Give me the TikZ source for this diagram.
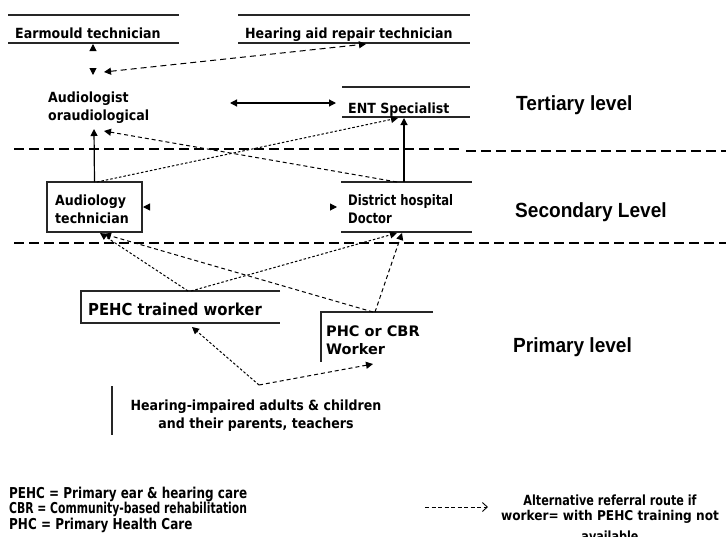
\documentclass[tikz,border=0pt]{standalone}
\usepackage{fontspec}
\usetikzlibrary{arrows.meta}
\newfontfamily\wideface{DejaVu Sans}
\newfontfamily\midface{DejaVu Sans}[FakeStretch=0.9]
\newfontfamily\narrowface{DejaVu Sans}[FakeStretch=0.8]
\newfontfamily\tightface{DejaVu Sans}[FakeStretch=0.72]
\newfontfamily\levelface{Liberation Sans Bold}[FakeStretch=0.93]

\begin{document}
\begin{tikzpicture}[x=1pt,y=-1pt,
  frame/.style={inner sep=0pt, outer sep=0pt, draw=none},
  rule/.style={line width=1.1pt, draw=black!85},
  txt/.style={inner sep=0pt, anchor=base west, align=left},
  boxfont/.style={font=\midface\bfseries\fontsize{14}{18}\selectfont},
  levelfont/.style={font=\levelface\fontsize{20.5}{24}\selectfont},
  conn/.style={line width=1pt, draw=black},
  headend/.style={-{Triangle[width=7pt,length=7pt]}},
  headboth/.style={{Triangle[width=7pt,length=7pt]}-{Triangle[width=7pt,length=7pt]}},
  dashline/.style={dash pattern=on 6pt off 4pt},
  shortdash/.style={dash pattern=on 4pt off 3pt},
  dotline/.style={dash pattern=on 2.5pt off 2pt},
  tipsonly/.style={dash pattern=on 0pt off 1000pt},
  levelline/.style={line width=1.8pt, dash pattern=on 10pt off 5pt}
]
\useasboundingbox (0,0) rectangle (726,536);

% ---- frames of the boxes
\node[frame, minimum width=171pt, minimum height=28pt] (earbox) at (93.5,29) {};
\node[frame, minimum width=232pt, minimum height=28pt] (hearbox) at (354,29) {};
\node[frame, minimum width=128pt, minimum height=30pt] (entbox) at (406,102) {};
\node[frame, minimum width=95pt, minimum height=50pt] (atbox) at (94.5,207) {};
\node[frame, minimum width=131pt, minimum height=50pt] (dhbox) at (406.5,207) {};
\node[frame, minimum width=199pt, minimum height=32pt] (pehcbox) at (180.5,307) {};
\node[frame, minimum width=112pt, minimum height=50pt] (phcbox) at (377,337) {};
\node[frame, minimum width=1pt, minimum height=49pt] (hibar) at (112,410.5) {};

\draw[rule] (earbox.north west) -- (earbox.north east) (earbox.south west) -- (earbox.south east);
\draw[rule] (hearbox.north west) -- (hearbox.north east) (hearbox.south west) -- (hearbox.south east);
\draw[rule] (entbox.north west) -- (entbox.north east) (entbox.south west) -- (entbox.south east);
\draw[rule] (dhbox.north west) -- (dhbox.north east) (dhbox.south west) -- (dhbox.south east);
\draw[rule] (atbox.north west) rectangle (atbox.south east);
\draw[rule] (pehcbox.north east) -- (pehcbox.north west) -- (pehcbox.south west) -- (pehcbox.south east);
\draw[rule] (phcbox.north east) -- (phcbox.north west) -- (phcbox.south west);
\draw[rule] (hibar.north) -- (hibar.south);

% ---- texts (multi-line nodes sit on the baseline of their last line)
\node[txt, boxfont] (ear) at (15,38) {Earmould technician};
\node[txt, boxfont] (hear) at (245,38) {Hearing aid repair technician};
\node[txt, boxfont] (aud) at (48,120) {Audiologist\\oraudiological};
\node[txt, boxfont] (ent) at (348,113) {ENT Specialist};
\node[txt, boxfont] (atech) at (55,223) {Audiology\\technician};
\node[txt, font=\narrowface\bfseries\fontsize{14.5}{18}\selectfont] (dhd) at (348,223) {District hospital\\Doctor};
\node[txt, font=\midface\bfseries\fontsize{16.5}{20}\selectfont] (pehc) at (88,315) {PEHC trained worker};
\node[txt, font=\wideface\bfseries\fontsize{14.5}{18}\selectfont] (phc) at (326,354) {PHC or CBR\\Worker};
\node[inner sep=0pt, anchor=base, align=center, font=\midface\bfseries\fontsize{14}{18}\selectfont] (hi) at (256,428)
  {Hearing-impaired adults \& children\\and their parents, teachers};

\node[txt, levelfont] (tert) at (516,110) {Tertiary level};
\node[txt, levelfont] (sec) at (515,217) {Secondary Level};
\node[txt, levelfont] (prim) at (513,352) {Primary level};

% ---- level separators
\draw[levelline] (14,149) -- (463,149);
\draw[levelline] (466,151) -- (726,151);
\draw[levelline] (14,243) -- (726,243);

% ---- connector ends
\coordinate (p-ear) at (93,44);
\coordinate (p-audtop) at (93,75);
\coordinate (p-audright) at (104,72);
\coordinate (p-hear) at (366,44);
\coordinate (p-audeast) at (230,103);
\coordinate (p-entwest) at (336,103);
\coordinate (p-audbot1) at (94,129);
\coordinate (p-audbot2) at (104,131);
\coordinate (p-ent1) at (398,118);
\coordinate (p-ent2) at (404,118);
\coordinate (p-attop2) at (97,182);
\coordinate (p-dhtop1) at (397,182);
\coordinate (p-dhtop2) at (404,182);
\coordinate (p-ateast) at (143,207);
\coordinate (p-dhwest) at (337,207);
\coordinate (p-atbot1) at (100,233);
\coordinate (p-atbot2) at (104,234);
\coordinate (p-dhbot1) at (397,233);
\coordinate (p-dhbot2) at (402,233);
\coordinate (p-pehctop1) at (188,291);
\coordinate (p-pehctop2) at (191,291);
\coordinate (p-phctop1) at (373,312);
\coordinate (p-phctop2) at (375,312);
\coordinate (p-pehcbot) at (192,327);
\coordinate (p-phcbot) at (373,364);
\coordinate (src) at (259,385);

% ---- tertiary links
\draw[conn, tipsonly, headboth] (p-audtop) -- (p-ear);
\draw[conn, dashline, headboth] (p-audright) -- (p-hear);
\draw[conn, line width=1.2pt, headboth] (p-audeast) -- (p-entwest);

% ---- secondary to tertiary
\draw[conn, line width=1.2pt, headend] (atbox.north) -- (p-audbot1);
\draw[conn, shortdash, headend] (p-dhtop1) -- (p-audbot2);
\draw[conn, dotline, headend] (p-attop2) -- (p-ent1);
\draw[conn, line width=1.2pt, headend] (p-dhtop2) -- (p-ent2);
\draw[conn, tipsonly, headboth] (p-ateast) -- (p-dhwest);

% ---- primary to secondary
\draw[conn, dotline, headend] (p-pehctop1) -- (p-atbot1);
\draw[conn, shortdash, headend] (p-phctop1) -- (p-atbot2);
\draw[conn, dotline, headend] (p-pehctop2) -- (p-dhbot1);
\draw[conn, shortdash, headend] (p-phctop2) -- (p-dhbot2);

% ---- community to primary
\draw[conn, dotline, headend] (src) -- (p-pehcbot);
\draw[conn, shortdash, headend] (src) -- (p-phcbot);

% ---- key
\node[txt, font=\narrowface\bfseries\fontsize{15}{15.5}\selectfont] (abbr) at (9,529)
  {PEHC = Primary ear \& hearing care\\
   {\tightface\bfseries CBR = Community-based rehabilitation}\\
   PHC = Primary Health Care};
\coordinate (key-a) at (425,507);
\coordinate (key-b) at (488,507);
\draw[line width=0.9pt, dash pattern=on 4pt off 2.5pt, -{Straight Barb[length=5pt,width=9pt]}] (key-a) -- (key-b);
\node[inner sep=0pt, anchor=base, align=center, font=\fontsize{13.5}{15}\selectfont] (alt) at (610,541)
  {{\narrowface\bfseries\fontsize{14}{15}\selectfont Alternative referral route if}\\
   {\midface\bfseries\fontsize{13.5}{15}\selectfont worker= with PEHC training not}\\[6pt]
   {\narrowface\bfseries\fontsize{14}{15}\selectfont available}};
\end{tikzpicture}
\end{document}
